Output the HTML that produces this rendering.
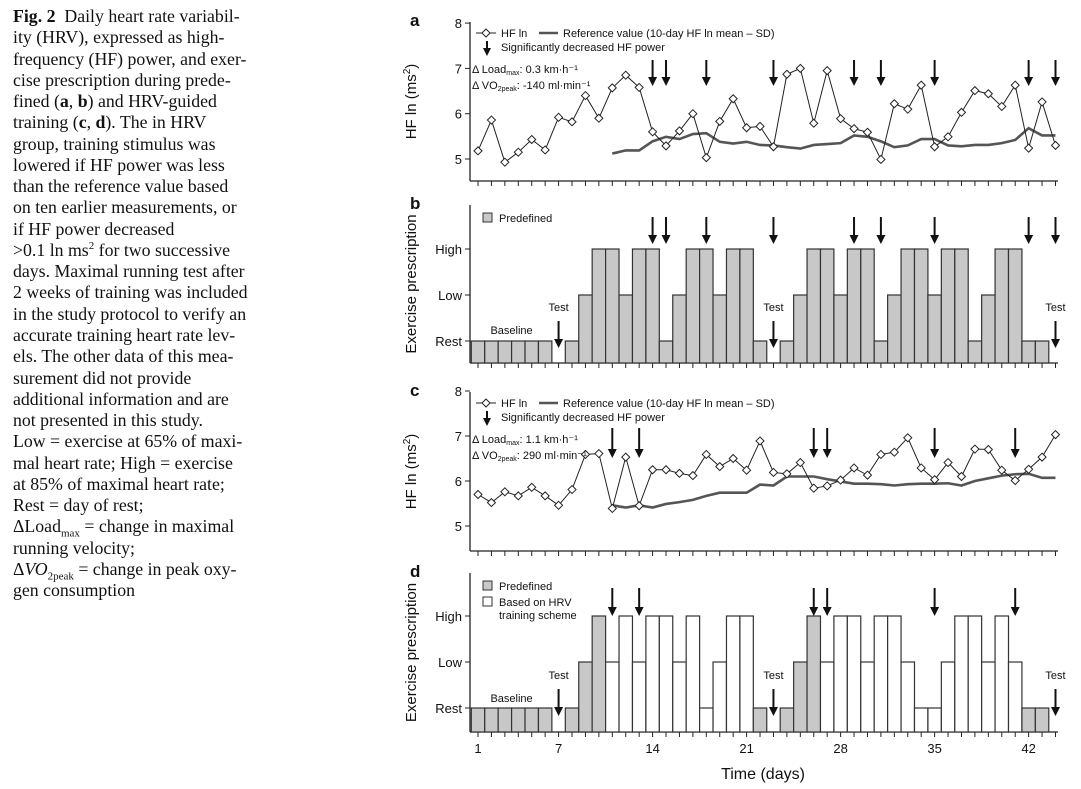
<!DOCTYPE html>
<html><head><meta charset="utf-8"><style>
body{margin:0;background:#fff;width:1081px;height:789px;overflow:hidden;position:relative}
#cap{position:absolute;left:13px;top:6px;width:270px;font-family:"Liberation Serif",serif;font-size:17.8px;line-height:21.26px;color:#111}
#cap div{white-space:nowrap}
svg{position:absolute;left:0;top:0}
svg text{font-family:"Liberation Sans",sans-serif;fill:#111}
</style></head><body>
<div id="cap">
<div><b>Fig. 2</b>&nbsp; Daily heart rate variabil-</div>
<div>ity (HRV), expressed as high-</div>
<div>frequency (HF) power, and exer-</div>
<div>cise prescription during prede-</div>
<div>fined (<b>a</b>, <b>b</b>) and HRV-guided</div>
<div>training (<b>c</b>, <b>d</b>). The in HRV</div>
<div>group, training stimulus was</div>
<div>lowered if HF power was less</div>
<div>than the reference value based</div>
<div>on ten earlier measurements, or</div>
<div>if HF power decreased</div>
<div>&gt;0.1 ln ms<sup style="font-size:11px;line-height:0">2</sup> for two successive</div>
<div>days. Maximal running test after</div>
<div>2 weeks of training was included</div>
<div>in the study protocol to verify an</div>
<div>accurate training heart rate lev-</div>
<div>els. The other data of this mea-</div>
<div>surement did not provide</div>
<div>additional information and are</div>
<div>not presented in this study.</div>
<div>Low = exercise at 65% of maxi-</div>
<div>mal heart rate; High = exercise</div>
<div>at 85% of maximal heart rate;</div>
<div>Rest = day of rest;</div>
<div>ΔLoad<sub style="font-size:11px;line-height:0">max</sub> = change in maximal</div>
<div>running velocity;</div>
<div>Δ<i>VO</i><sub style="font-size:11px;line-height:0">2peak</sub> = change in peak oxy-</div>
<div>gen consumption</div>
</div>
<svg id="fig" width="1081" height="789"></svg>
<script>
const hfA=[5.18,5.86,4.93,5.15,5.43,5.2,5.92,5.82,6.40,5.9,6.57,6.85,6.58,5.6,5.29,5.62,6.0,5.03,5.83,6.33,5.69,5.72,5.27,6.87,7.0,5.79,6.95,5.89,5.67,5.59,4.99,6.22,6.10,6.63,5.27,5.49,6.03,6.51,6.44,6.16,6.63,5.24,6.26,5.30];
const refA=[5.12,5.19,5.19,5.39,5.49,5.44,5.55,5.57,5.38,5.34,5.38,5.31,5.30,5.26,5.23,5.31,5.33,5.35,5.52,5.49,5.39,5.26,5.30,5.44,5.44,5.30,5.28,5.31,5.31,5.35,5.42,5.68,5.52,5.52];
const refStartDay=11;
const arrowsA=[14,15,18,23,29,31,35,42,44];
const hfC=[5.70,5.52,5.76,5.67,5.86,5.67,5.46,5.81,6.59,6.61,5.39,6.53,5.45,6.25,6.25,6.17,6.12,6.59,6.32,6.50,6.24,6.89,6.19,6.16,6.41,5.84,5.89,6.02,6.29,6.13,6.59,6.64,6.96,6.29,6.03,6.41,6.10,6.71,6.70,6.24,6.01,6.26,6.53,7.03];
const refC=[5.46,5.41,5.46,5.41,5.49,5.53,5.58,5.67,5.74,5.74,5.74,5.92,5.90,6.10,6.10,6.10,6.04,5.99,5.94,5.94,5.93,5.90,5.93,5.94,5.94,5.95,5.90,6.0,6.06,6.12,6.15,6.16,6.07,6.07];
const arrowsC=[11,13,26,27,35,41];
// levels: 0 none(test), 1 Rest, 2 Low, 3 High
const levelsB=[1,1,1,1,1,1,0,1,2,3,3,2,3,3,1,2,3,3,2,3,3,1,0,1,2,3,3,2,3,3,1,2,3,3,2,3,3,1,2,3,3,1,1,0];
const levelsD=[1,1,1,1,1,1,0,1,2,3,2,3,2,3,3,2,3,1,2,3,3,1,0,1,2,3,2,3,3,2,3,3,2,1,1,2,3,3,2,3,2,1,1,0];
const predefD=[1,1,1,1,1,1,0,1,1,1,0,0,0,0,0,0,0,0,0,0,0,1,0,1,1,1,0,0,0,0,0,0,0,0,0,0,0,0,0,0,0,1,1,0];
const testDays=[7,23,44];
const dayTicks=[1,7,14,21,28,35,42];
const hfTicks=[5,6,7,8];
const levelNames=['Rest','Low','High'];

const NS='http://www.w3.org/2000/svg';
const svg=document.getElementById('fig');
function mk(tag,attrs,parent,txt){const e=document.createElementNS(NS,tag);for(const k in attrs)e.setAttribute(k,attrs[k]);if(txt!==undefined)e.textContent=txt;(parent||svg).appendChild(e);return e;}
const X=d=>478+(d-1)*13.43;
const panels={
 a:{yv:v=>159-(v-5)*45.3,top:22,bot:181},
 b:{yl:l=>387-l*46,top:205,bot:363},
 c:{yv:v=>526-(v-5)*45,top:392,bot:551},
 d:{yl:l=>754-l*46,top:573,bot:732}
};
function arrow(x,y1,y2,name){
 const g=mk('g',{});
 
 
 mk('line',{x1:x,y1:y1,x2:x,y2:y2-7,stroke:'#111','stroke-width':2},g);
 mk('polygon',{points:`${x-4.5},${y2-9} ${x+4.5},${y2-9} ${x},${y2}`,fill:'#111'},g);
}
function axes(p,key){
 const g=mk('g',{});
 
 
 mk('line',{x1:470,y1:p.top,x2:470,y2:p.bot,stroke:'#222','stroke-width':1.3},g);
 mk('line',{x1:470,y1:p.bot,x2:1058,y2:p.bot,stroke:'#222','stroke-width':1.3},g);
 for(let d=1;d<=44;d++)mk('line',{x1:X(d),y1:p.bot,x2:X(d),y2:p.bot+5,stroke:'#222','stroke-width':1},g);
 mk('text',{x:410,y:p.top+4,'font-size':17,'font-weight':'bold'},g,key);
}
function hfPanel(key,hf,ref,arrows,loadTxt,vo2Txt){
 const p=panels[key];axes(p,key);
 hfTicks.forEach(t=>{mk('line',{x1:465,y1:p.yv(t),x2:470,y2:p.yv(t),stroke:'#222'});
  const tx=mk('text',{x:462,y:p.yv(t)+5,'font-size':13,'text-anchor':'end'},svg,t);
  
  });
 const mid=(p.top+p.bot)/2;
 const yl=mk('text',{x:0,y:0,'font-size':15,'text-anchor':'middle',transform:`translate(416,${mid}) rotate(-90)`});
 
 
 yl.innerHTML='HF ln (ms<tspan dy="-6" font-size="10">2</tspan><tspan dy="6">)</tspan>';
 const rp=ref.map((v,i)=>`${X(refStartDay+i)},${p.yv(v)}`).join(' ');
 const rl=mk('polyline',{points:rp,fill:'none',stroke:'#555','stroke-width':2.6});
 
 
 const hp=hf.map((v,i)=>`${X(i+1)},${p.yv(v)}`).join(' ');
 const hl=mk('polyline',{points:hp,fill:'none',stroke:'#222','stroke-width':1});
 
 
 hf.forEach((v,i)=>{const x=X(i+1),y=p.yv(v);
  const pt=mk('polygon',{points:`${x},${y-4} ${x+4},${y} ${x},${y+4} ${x-4},${y}`,fill:'#fff',stroke:'#222','stroke-width':1});
  
  });
 const ay1=key==='a'?60:428, ay2=key==='a'?86:458;
 arrows.forEach(d=>arrow(X(d),ay1,ay2,'decrease-arrow'));
 const ly=p.top+11;
 const lg=mk('g',{});
 
 
 mk('line',{x1:476,y1:ly,x2:496,y2:ly,stroke:'#222'},lg);
 mk('polygon',{points:`486,${ly-4} 490,${ly} 486,${ly+4} 482,${ly}`,fill:'#fff',stroke:'#222'},lg);
 mk('text',{x:501,y:ly+4,'font-size':11},lg,'HF ln');
 mk('line',{x1:539,y1:ly,x2:558,y2:ly,stroke:'#555','stroke-width':2.6},lg);
 mk('text',{x:563,y:ly+4,'font-size':11},lg,'Reference value (10-day HF ln mean – SD)');
 mk('line',{x1:487,y1:ly+8,x2:487,y2:ly+17,stroke:'#111','stroke-width':2},lg);
 mk('polygon',{points:`483,${ly+15} 491,${ly+15} 487,${ly+23}`,fill:'#111'},lg);
 mk('text',{x:501,y:ly+18,'font-size':11},lg,'Significantly decreased HF power');
 const t1=mk('text',{x:472,y:p.top+51,'font-size':11},lg);
 t1.innerHTML='Δ Load<tspan font-size="7" dy="2">max</tspan><tspan dy="-2">: '+loadTxt+'</tspan>';
 const t2=mk('text',{x:472,y:p.top+67,'font-size':11},lg);
 t2.innerHTML='Δ VO<tspan font-size="7" dy="2">2peak</tspan><tspan dy="-2">: '+vo2Txt+'</tspan>';
}
function barPanel(key,levels,predef,arrows,withHrvLegend){
 const p=panels[key];axes(p,key);
 [1,2,3].forEach(l=>{mk('line',{x1:465,y1:p.yl(l),x2:470,y2:p.yl(l),stroke:'#222'});
  const tx=mk('text',{x:462,y:p.yl(l)+5,'font-size':13,'text-anchor':'end'},svg,levelNames[l-1]);
  
  });
 const mid=(p.top+p.bot)/2;
 const yl=mk('text',{x:0,y:0,'font-size':15,'text-anchor':'middle',transform:`translate(416,${mid}) rotate(-90)`},svg,'Exercise prescription');
 
 
 levels.forEach((l,i)=>{if(!l)return;const x=X(i+1)-6.7,y=p.yl(l);
  const grey=predef?predef[i]:1;
  const r=mk('rect',{x:x,y:y,width:13.43,height:p.bot-y,fill:grey?'#c8c8c8':'#fff',stroke:'#333','stroke-width':1.2});
  
  });
 const ay1=key==='b'?217:588, ay2=key==='b'?244:616;
 arrows.forEach(d=>arrow(X(d),ay1,ay2,'decrease-arrow'));
 const ty=key==='b'?311:679;
 testDays.forEach(d=>{const t=mk('text',{x:X(d),y:ty,'font-size':11,'text-anchor':'middle'},svg,'Test');
  
  
  arrow(X(d),ty+10,ty+37,'test-arrow');});
 const b=mk('text',{x:X(3.5),y:ty+23,'font-size':11,'text-anchor':'middle'},svg,'Baseline');
 
 
 const lg=mk('g',{});
 
 
 mk('rect',{x:483,y:p.top+8,width:9,height:9,fill:'#c8c8c8',stroke:'#333'},lg);
 mk('text',{x:499,y:p.top+17,'font-size':11},lg,'Predefined');
 if(withHrvLegend){
  mk('rect',{x:483,y:p.top+24,width:9,height:9,fill:'#fff',stroke:'#333'},lg);
  mk('text',{x:499,y:p.top+33,'font-size':11},lg,'Based on HRV');
  mk('text',{x:499,y:p.top+46,'font-size':11},lg,'training scheme');
 }
}
hfPanel('a',hfA,refA,arrowsA,'0.3 km·h⁻¹','-140 ml·min⁻¹');
barPanel('b',levelsB,null,arrowsA,false);
hfPanel('c',hfC,refC,arrowsC,'1.1 km·h⁻¹','290 ml·min⁻¹');
barPanel('d',levelsD,predefD,arrowsC,true);
dayTicks.forEach(d=>{const t=mk('text',{x:X(d),y:753,'font-size':13,'text-anchor':'middle'},svg,d);
 
 });
const xt=mk('text',{x:763,y:779,'font-size':16,'text-anchor':'middle'},svg,'Time (days)');


</script>
</body></html>
